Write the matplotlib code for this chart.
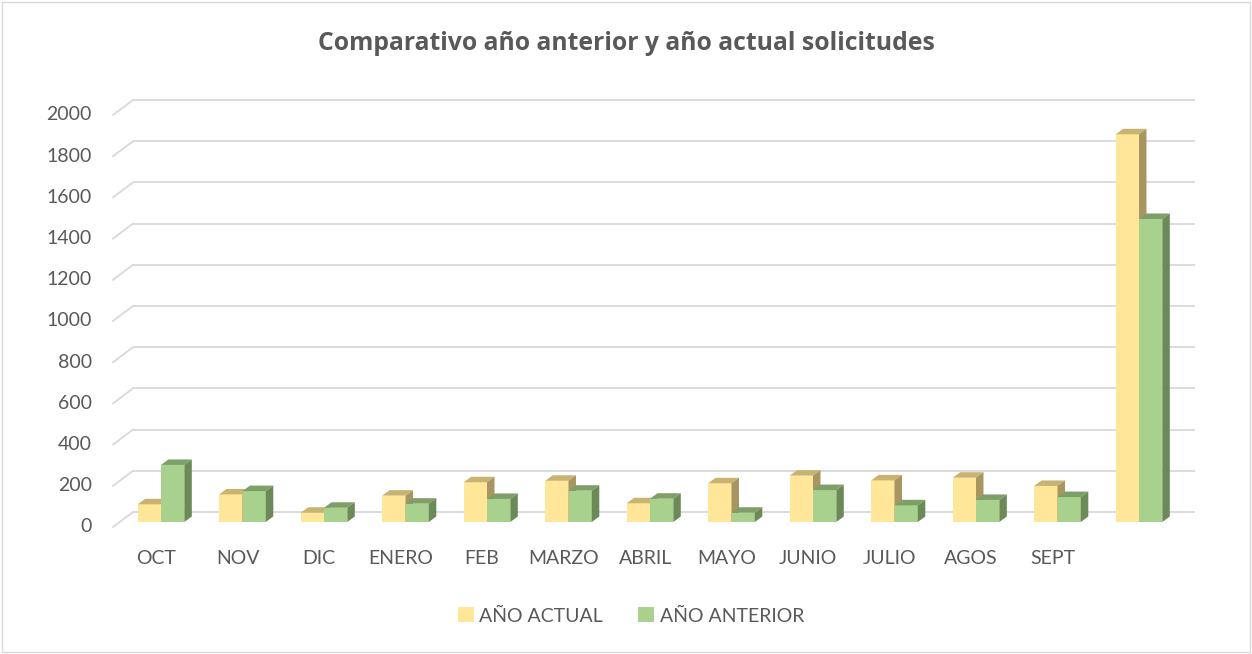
import matplotlib
matplotlib.use("Agg")
import matplotlib.pyplot as plt
from matplotlib.patches import Polygon, Patch, Rectangle

# ---- data ----
MESES = ["OCT", "NOV", "DIC", "ENERO", "FEB", "MARZO", "ABRIL", "MAYO",
         "JUNIO", "JULIO", "AGOS", "SEPT", ""]
ANO_ACTUAL = [86, 134, 45, 128, 193, 200, 91, 188, 225, 202, 215, 175, 1882]
ANO_ANTERIOR = [277, 150, 69, 89, 112, 152, 113, 45, 155, 81, 107, 121, 1471]
YTICKS = [0, 200, 400, 600, 800, 1000, 1200, 1400, 1600, 1800, 2000]

plt.rcParams["font.family"] = ["Lato", "DejaVu Sans"]
TXT = "#595959"
GRID = "#D9D9D9"
COL = {
    "act": ("#FFE699", "#C9B370", "#A89662"),   # front, top, side
    "ant": ("#A9D18E", "#7E9F67", "#6C8A58"),
}

W, H = 1252, 654
fig = plt.figure(figsize=(W / 100, H / 100), dpi=100)
ax = fig.add_axes([0, 0, 1, 1])
ax.set_axis_off()

# pixel scale of the chart area (category unit / value unit)
PX_X, PX_Y = 81.5, 0.206
X_ORIG, Y_ORIG = 161, 522          # pixel of (0, 0) on the bar plane
ax.set_xlim(-X_ORIG / PX_X, (W - X_ORIG) / PX_X)
ax.set_ylim(-(H - Y_ORIG) / PX_Y, Y_ORIG / PX_Y)

# depth offsets (pseudo 3D)
BACK_DX, BACK_DY = 13.3 / PX_X, 10 / PX_Y
FRONT_DX, FRONT_DY = -6.7 / PX_X, -5 / PX_Y
WALL_L, WALL_R = (133 - X_ORIG) / PX_X, (1195 - X_ORIG) / PX_X
BAR_W = 23.3 / PX_X
BAR_DX, BAR_DY = 7.5 / PX_X, 5.5 / PX_Y

# back wall grid + left floor diagonals
for v in YTICKS:
    yb = v + BACK_DY
    yf = v + FRONT_DY
    ax.plot([WALL_L, WALL_R], [yb, yb], color=GRID, lw=1.3, zorder=1,
            solid_capstyle="butt")
    ax.plot([WALL_L - (BACK_DX - FRONT_DX), WALL_L], [yf, yb], color=GRID,
            lw=1.3, zorder=1)
    ax.text(-0.85, yf, str(v), ha="right", va="center", fontsize=14, color=TXT)


def bar3d(x0, h, cols, z):
    front, top, side = cols
    x1 = x0 + BAR_W
    ax.add_patch(Polygon([(x0, 0), (x1, 0), (x1, h), (x0, h)], closed=True,
                         facecolor=front, edgecolor="none", zorder=z))
    ax.add_patch(Polygon([(x0, h), (x1, h), (x1 + BAR_DX, h + BAR_DY),
                          (x0 + BAR_DX, h + BAR_DY)], closed=True,
                         facecolor=top, edgecolor="none", zorder=z))
    ax.add_patch(Polygon([(x1, 0), (x1 + BAR_DX, BAR_DY),
                          (x1 + BAR_DX, h + BAR_DY), (x1, h)], closed=True,
                         facecolor=side, edgecolor="none", zorder=z))


for i, (a, b) in enumerate(zip(ANO_ACTUAL, ANO_ANTERIOR)):
    bar3d(i - BAR_W, a, COL["act"], 3 + 2 * i)
    bar3d(i, b, COL["ant"], 4 + 2 * i)
    ax.text(i - 0.06, -175, MESES[i], ha="center", va="center",
            fontsize=14, color=TXT)

fig.text(0.5, 1 - 44 / H, "Comparativo año anterior y año actual solicitudes",
         ha="center", va="center", fontsize=17.8, fontweight="bold", color=TXT,
         family=["Open Sans", "DejaVu Sans"])

handles = [Patch(facecolor=COL["act"][0], label="AÑO ACTUAL"),
           Patch(facecolor=COL["ant"][0], label="AÑO ANTERIOR")]
fig.legend(handles=handles, loc="center", bbox_to_anchor=(0.504, 1 - 616 / H),
           ncol=2, frameon=False, fontsize=14, handlelength=0.8,
           handleheight=0.8, handletextpad=0.3, columnspacing=1.8,
           labelcolor=TXT)

fig.patches.append(Rectangle((2 / W, 2 / H), 1 - 4 / W, 1 - 4 / H,
                             transform=fig.transFigure, fill=False,
                             edgecolor=GRID, lw=1.0))

fig.savefig("out.png", dpi=100)
